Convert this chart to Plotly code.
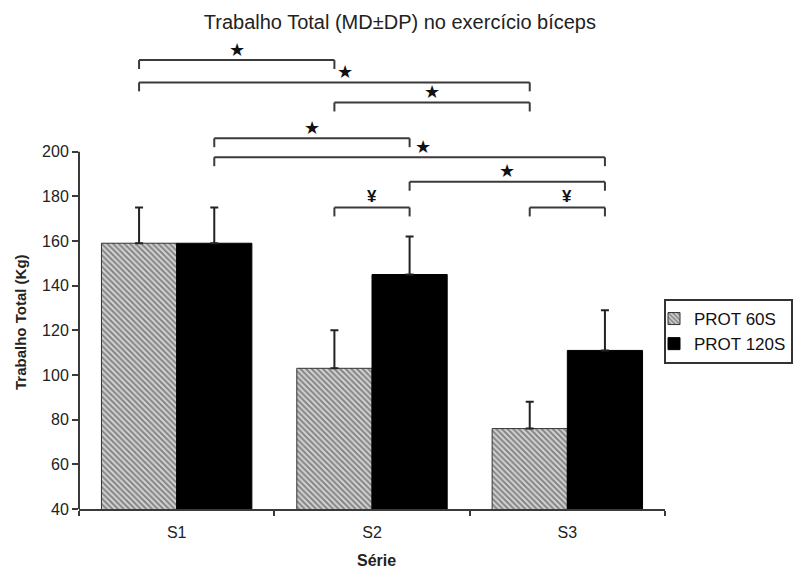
import plotly.graph_objects as go

# ---- data ----
categories = ["S1", "S2", "S3"]
prot60 = [159, 103, 76]
prot60_sd = [16, 17, 12]
prot120 = [159, 145, 111]
prot120_sd = [16, 17, 18]
series_names = ["PROT 60S", "PROT 120S"]
y_ticks = [40, 60, 80, 100, 120, 140, 160, 180, 200]

# significance comparisons: (category a, series a, category b, series b, symbol)
comparisons = [
    (0, 0, 1, 0, "★"),
    (0, 0, 2, 0, "★"),
    (1, 0, 2, 0, "★"),
    (0, 1, 1, 1, "★"),
    (0, 1, 2, 1, "★"),
    (1, 1, 2, 1, "★"),
    (2, 0, 2, 1, "¥"),
    (1, 0, 1, 1, "¥"),
]
bracket_levels = [241, 231, 222, 206, 197.5, 186.5, 175, 175]
symbol_xshift = [0, 11, 0, 0, 13, 0, 0, 0]

BARGAP = 0.23
FONT = "Liberation Sans, Arial, sans-serif"
LINE = "#3a3a3a"

fig = go.Figure()
fig.add_trace(go.Bar(
    name=series_names[0], x=categories, y=prot60,
    marker=dict(color="#cfcfcf",
                line=dict(color="#333333", width=1),
                pattern=dict(shape="\\", fgcolor="#333333", bgcolor="#d4d4d4",
                             size=4, solidity=0.5)),
    error_y=dict(type="data", symmetric=False, array=prot60_sd,
                 arrayminus=[0] * len(prot60_sd), color="#222222",
                 thickness=2, width=4),
))
fig.add_trace(go.Bar(
    name=series_names[1], x=categories, y=prot120,
    marker=dict(color="#000000", line=dict(color="#000000", width=1)),
    error_y=dict(type="data", symmetric=False, array=prot120_sd,
                 arrayminus=[0] * len(prot120_sd), color="#222222",
                 thickness=2, width=4),
))

# bar centre offsets within a category (grouped, 2 bars)
half = (1 - BARGAP) / 4
offsets = [-half, half]

shapes = [dict(type="line", xref="paper", yref="y", x0=0, x1=0, y0=y_ticks[0],
               y1=y_ticks[-1], line=dict(color=LINE, width=2))]
annotations = []
drop = 4
for (ca, sa, cb, sb, sym), lvl, xs in zip(comparisons, bracket_levels, symbol_xshift):
    xa = ca + offsets[sa]
    xb = cb + offsets[sb]
    for seg in [(xa, lvl - drop, xa, lvl), (xa, lvl, xb, lvl), (xb, lvl, xb, lvl - drop)]:
        shapes.append(dict(type="line", xref="x", yref="y",
                           x0=seg[0], y0=seg[1], x1=seg[2], y1=seg[3],
                           line=dict(color=LINE, width=2)))
    is_star = sym == "★"
    annotations.append(dict(
        x=(xa + xb) / 2, y=lvl, xref="x", yref="y",
        text=sym if is_star else "<b>" + sym + "</b>", showarrow=False,
        yanchor="middle", xanchor="center", yshift=11, xshift=xs,
        font=dict(family="DejaVu Sans, " + FONT if is_star else FONT,
                  size=18 if is_star else 17, color="#111111"),
    ))

annotations.append(dict(
    text="<b>Trabalho Total (Kg)</b>", xref="paper", yref="paper",
    x=(20 - 79) / 586, y=(509 - 322) / 469, textangle=-90, showarrow=False,
    xanchor="center", yanchor="middle",
    font=dict(family=FONT, size=15, color="#222222"),
))
annotations.append(dict(
    text="<b>Série</b>", xref="paper", yref="paper",
    x=(376 - 79) / 586, y=(509 - 560) / 469, showarrow=False,
    xanchor="center", yanchor="middle",
    font=dict(family=FONT, size=16, color="#222222"),
))

fig.update_layout(
    width=795, height=573, autosize=False,
    margin=dict(l=79, r=130, t=40, b=64, autoexpand=False),
    paper_bgcolor="white", plot_bgcolor="white",
    barmode="group", bargap=BARGAP, bargroupgap=0,
    title=dict(text="Trabalho Total (MD±DP) no exercício bíceps",
               xref="container", yref="container", x=0.503, y=1 - 22 / 573,
               xanchor="center", yanchor="middle",
               font=dict(family=FONT, size=20, color="#222222")),
    font=dict(family=FONT, color="#222222"),
    xaxis=dict(type="category", range=[-0.5, 2.5], showline=True,
               linecolor=LINE, linewidth=2, ticks="outside", tickson="boundaries",
               ticklen=5, tickwidth=2, tickcolor=LINE, showgrid=False,
               zeroline=False, tickfont=dict(size=16), ticklabelstandoff=8),
    yaxis=dict(range=[40, 250], tickvals=y_ticks, ticks="outside", ticklen=6,
               tickwidth=2, tickcolor=LINE, showline=False, showgrid=False,
               zeroline=False, tickfont=dict(size=16)),
    legend=dict(x=(793 - 79) / 586, xanchor="right", y=(509 - 299) / 469,
                yanchor="top", bordercolor="#333333", borderwidth=2,
                bgcolor="white", font=dict(family=FONT, size=17, color="#111111"),
                tracegroupgap=0, indentation=-12),
    shapes=shapes, annotations=annotations,
)

fig.write_html("out.html",
               config={"displayModeBar": False},
               post_script="document.body.style.margin='0px';"
                           "document.body.style.padding='0px';")
